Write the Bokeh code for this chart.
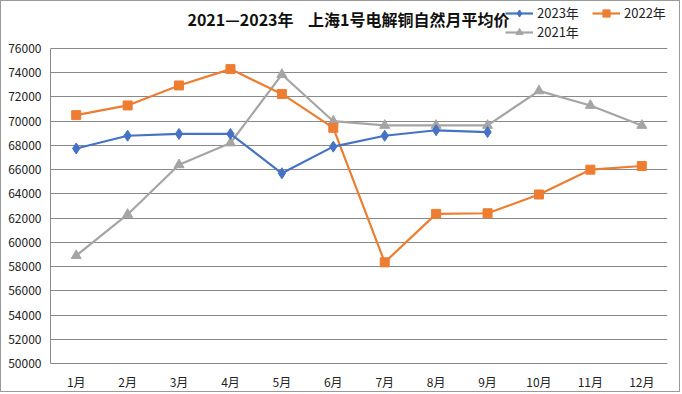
from bokeh.plotting import figure
from bokeh.models import FixedTicker, Legend, LegendItem, Label, NumeralTickFormatter
from bokeh.embed import file_html
from bokeh.resources import INLINE

months = ["1月", "2月", "3月", "4月", "5月", "6月", "7月", "8月", "9月", "10月", "11月", "12月"]
y2023 = [67750, 68800, 68950, 68950, 65700, 67900, 68800, 69250, 69100]
y2022 = [70500, 71300, 72950, 74300, 72250, 69450, 58350, 62350, 62400, 63950, 66000, 66300]
y2021 = [58900, 62300, 66400, 68200, 73850, 70000, 69650, 69650, 69650, 72500, 71300, 69650]
yticks = list(range(50000, 76001, 2000))
title_text = "2021—2023年\u00a0\u00a0\u00a0\u00a0上海1号电解铜自然月平均价"

c2023 = "#4472C4"
c2022 = "#ED7D31"
c2021 = "#A5A5A5"
font = "Noto Sans CJK SC"

# frame extends to top of figure so title/legend can live inside it;
# plotted area is 50000..76000 (axis bounds), headroom above is empty
y_top = 76000 + 47 * 26000 / 315
p = figure(x_range=months, y_range=(50000, y_top), width=680, height=392,
           output_backend="svg", toolbar_location=None, title=None,
           min_border_left=49, min_border_right=14, min_border_top=0, min_border_bottom=30)
p.x_range.range_padding = 0
p.outline_line_color = None

p.yaxis.ticker = FixedTicker(ticks=yticks)
p.yaxis.formatter = NumeralTickFormatter(format="0")
p.yaxis.bounds = (50000, 76000)
for ax in (p.xaxis[0], p.yaxis[0]):
    ax.axis_line_color = "#898989"
    ax.major_tick_line_color = None
    ax.minor_tick_line_color = None
    ax.major_tick_out = 0
    ax.major_tick_in = 0
    ax.minor_tick_out = 0
    ax.major_label_text_font = font
    ax.major_label_text_font_size = "12px"
    ax.major_label_text_color = "#222222"
p.yaxis.major_label_standoff = 9
p.xaxis.major_label_standoff = 9
p.xgrid.grid_line_color = None
p.ygrid.grid_line_color = "#898989"
p.ygrid.grid_line_width = 1

l21 = p.line(months, y2021, line_color=c2021, line_width=2.2)
m21 = p.scatter(months, y2021, marker="triangle", size=10, fill_color=c2021, line_color=c2021)
l22 = p.line(months, y2022, line_color=c2022, line_width=2.2)
m22 = p.scatter(months, y2022, marker="square", size=9, fill_color=c2022, line_color=c2022)
l23 = p.line(months[:len(y2023)], y2023, line_color=c2023, line_width=2.2)
m23 = p.scatter(months[:len(y2023)], y2023, marker="diamond", size=11, fill_color=c2023, line_color=c2023)

# column-major layout: column 1 = 2023, 2021; column 2 = 2022
legend = Legend(items=[
    LegendItem(label="2023年", renderers=[l23, m23]),
    LegendItem(label="2021年", renderers=[l21, m21]),
    LegendItem(label="2022年", renderers=[l22, m22]),
], ncols=2, location=(455, 322), background_fill_alpha=0, border_line_color=None,
    label_text_font=font, label_text_font_size="13px", label_text_color="#222222",
    glyph_width=28, glyph_height=18, label_standoff=4, spacing=0, padding=0, margin=0,
    label_height=18, label_width=55)
p.add_layout(legend, "center")

title = Label(x=298, y=345, x_units="screen", y_units="screen", text=title_text,
              text_align="center", text_baseline="middle",
              text_font=font, text_font_style="bold", text_font_size="16px",
              text_color="#111111")
p.add_layout(title)

p.styles = {"border": "1px solid #9a9a9a"}

open("out.html", "w").write(file_html(p, INLINE))
